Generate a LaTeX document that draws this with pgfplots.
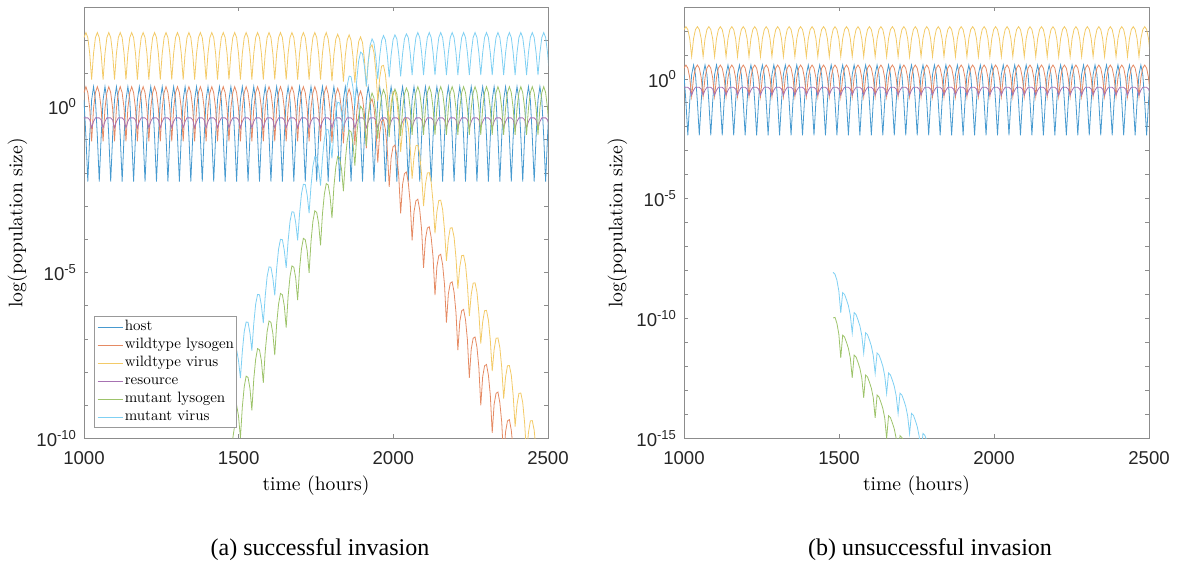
\documentclass[border=0pt]{standalone}
\usepackage{fontspec}
\setsansfont{Liberation Sans}
\newfontfamily\capfont{Liberation Serif}
\newfontfamily\lmten{lmroman10-regular.otf}
\usepackage{pgfplots}
\usepackage{pgfplotstable}
\pgfplotsset{compat=1.18}

\definecolor{chostb}{rgb}{0,0.447,0.741}
\definecolor{cwlb}{rgb}{0.85,0.325,0.098}
\definecolor{cwvb}{rgb}{0.929,0.694,0.125}
\definecolor{cresb}{rgb}{0.494,0.184,0.556}
\definecolor{cmlb}{rgb}{0.466,0.674,0.188}
\definecolor{cmvb}{rgb}{0.301,0.745,0.933}
\colorlet{chost}{chostb!72!white}
\colorlet{cwl}{cwlb!68!white}
\colorlet{cwv}{cwvb!68!white}
\colorlet{cres}{cresb!68!white}
\colorlet{cml}{cmlb!72!white}
\colorlet{cmv}{cmvb!72!white}

% log10 of population sizes; resident populations, successful invasion
\pgfplotstableread{
t h wl wv r
1000.00 0.20 0.42 2.08 -0.34
1006.17 -0.90 0.60 2.23 -0.34
1012.33 -2.26 0.42 2.08 -0.34
1018.50 -0.90 -0.05 1.60 -0.40
1024.67 0.20 -1.05 0.81 -0.64
1030.83 0.60 -0.05 1.60 -0.45
1037.00 0.20 0.42 2.08 -0.34
1043.17 -0.90 0.60 2.23 -0.34
1049.33 -2.26 0.42 2.08 -0.34
1055.50 -0.90 -0.05 1.60 -0.40
1061.67 0.20 -1.05 0.81 -0.64
1067.83 0.60 -0.05 1.60 -0.45
1074.00 0.20 0.42 2.08 -0.34
1080.17 -0.90 0.60 2.23 -0.34
1086.33 -2.26 0.42 2.08 -0.34
1092.50 -0.90 -0.05 1.60 -0.40
1098.67 0.20 -1.05 0.81 -0.64
1104.83 0.60 -0.05 1.60 -0.45
1111.00 0.20 0.42 2.08 -0.34
1117.17 -0.90 0.60 2.23 -0.34
1123.33 -2.26 0.42 2.08 -0.34
1129.50 -0.90 -0.05 1.60 -0.40
1135.67 0.20 -1.05 0.81 -0.64
1141.83 0.60 -0.05 1.60 -0.45
1148.00 0.20 0.42 2.08 -0.34
1154.17 -0.90 0.60 2.23 -0.34
1160.33 -2.26 0.42 2.08 -0.34
1166.50 -0.90 -0.05 1.60 -0.40
1172.67 0.20 -1.05 0.81 -0.64
1178.83 0.60 -0.05 1.60 -0.45
1185.00 0.20 0.42 2.08 -0.34
1191.17 -0.90 0.60 2.23 -0.34
1197.33 -2.26 0.42 2.08 -0.34
1203.50 -0.90 -0.05 1.60 -0.40
1209.67 0.20 -1.05 0.81 -0.64
1215.83 0.60 -0.05 1.60 -0.45
1222.00 0.20 0.42 2.08 -0.34
1228.17 -0.90 0.60 2.23 -0.34
1234.33 -2.26 0.42 2.08 -0.34
1240.50 -0.90 -0.05 1.60 -0.40
1246.67 0.20 -1.05 0.81 -0.64
1252.83 0.60 -0.05 1.60 -0.45
1259.00 0.20 0.42 2.08 -0.34
1265.17 -0.90 0.60 2.23 -0.34
1271.33 -2.26 0.42 2.08 -0.34
1277.50 -0.90 -0.05 1.60 -0.40
1283.67 0.20 -1.05 0.81 -0.64
1289.83 0.60 -0.05 1.60 -0.45
1296.00 0.20 0.42 2.08 -0.34
1302.17 -0.90 0.60 2.23 -0.34
1308.33 -2.26 0.42 2.08 -0.34
1314.50 -0.90 -0.05 1.60 -0.40
1320.67 0.20 -1.05 0.81 -0.64
1326.83 0.60 -0.05 1.60 -0.45
1333.00 0.20 0.42 2.08 -0.34
1339.17 -0.90 0.60 2.23 -0.34
1345.33 -2.26 0.42 2.08 -0.34
1351.50 -0.90 -0.05 1.60 -0.40
1357.67 0.20 -1.05 0.81 -0.64
1363.83 0.60 -0.05 1.60 -0.45
1370.00 0.20 0.42 2.08 -0.34
1376.17 -0.90 0.60 2.23 -0.34
1382.33 -2.26 0.42 2.08 -0.34
1388.50 -0.90 -0.05 1.60 -0.40
1394.67 0.20 -1.05 0.81 -0.64
1400.83 0.60 -0.05 1.60 -0.45
1407.00 0.20 0.42 2.08 -0.34
1413.17 -0.90 0.60 2.23 -0.34
1419.33 -2.26 0.42 2.08 -0.34
1425.50 -0.90 -0.05 1.60 -0.40
1431.67 0.20 -1.05 0.81 -0.64
1437.83 0.60 -0.05 1.60 -0.45
1444.00 0.20 0.42 2.08 -0.34
1450.17 -0.90 0.60 2.23 -0.34
1456.33 -2.26 0.42 2.08 -0.34
1462.50 -0.90 -0.05 1.60 -0.40
1468.67 0.20 -1.05 0.81 -0.64
1474.83 0.60 -0.05 1.60 -0.45
1481.00 0.20 0.42 2.08 -0.34
1487.17 -0.90 0.60 2.23 -0.34
1493.33 -2.26 0.42 2.08 -0.34
1499.50 -0.90 -0.05 1.60 -0.40
1505.67 0.20 -1.05 0.81 -0.64
1511.83 0.60 -0.05 1.60 -0.45
1518.00 0.20 0.42 2.08 -0.34
1524.17 -0.90 0.60 2.23 -0.34
1530.33 -2.26 0.42 2.08 -0.34
1536.50 -0.90 -0.05 1.60 -0.40
1542.67 0.20 -1.05 0.81 -0.64
1548.83 0.60 -0.05 1.60 -0.45
1555.00 0.20 0.42 2.08 -0.34
1561.17 -0.90 0.60 2.23 -0.34
1567.33 -2.26 0.42 2.08 -0.34
1573.50 -0.90 -0.05 1.60 -0.40
1579.67 0.20 -1.05 0.81 -0.64
1585.83 0.60 -0.05 1.60 -0.45
1592.00 0.20 0.42 2.08 -0.34
1598.17 -0.90 0.60 2.23 -0.34
1604.33 -2.26 0.42 2.08 -0.34
1610.50 -0.90 -0.05 1.60 -0.40
1616.67 0.20 -1.05 0.81 -0.64
1622.83 0.60 -0.05 1.60 -0.45
1629.00 0.20 0.42 2.08 -0.34
1635.17 -0.90 0.60 2.23 -0.34
1641.33 -2.26 0.42 2.08 -0.34
1647.50 -0.90 -0.05 1.60 -0.40
1653.67 0.20 -1.05 0.81 -0.64
1659.83 0.60 -0.05 1.60 -0.45
1666.00 0.20 0.42 2.08 -0.34
1672.17 -0.90 0.60 2.23 -0.34
1678.33 -2.26 0.42 2.08 -0.34
1684.50 -0.90 -0.05 1.60 -0.40
1690.67 0.20 -1.05 0.81 -0.64
1696.83 0.60 -0.05 1.60 -0.45
1703.00 0.20 0.42 2.08 -0.34
1709.17 -0.90 0.60 2.23 -0.34
1715.33 -2.26 0.42 2.08 -0.34
1721.50 -0.90 -0.05 1.60 -0.40
1727.67 0.20 -1.05 0.81 -0.64
1733.83 0.60 -0.05 1.60 -0.45
1740.00 0.20 0.42 2.08 -0.34
1746.17 -0.90 0.60 2.23 -0.34
1752.33 -2.26 0.42 2.08 -0.34
1758.50 -0.90 -0.05 1.60 -0.40
1764.67 0.20 -1.05 0.81 -0.64
1770.83 0.60 -0.05 1.60 -0.45
1777.00 0.20 0.42 2.08 -0.34
1783.17 -0.90 0.60 2.23 -0.34
1789.33 -2.26 0.38 2.04 -0.34
1795.50 -0.90 -0.09 1.56 -0.40
1801.67 0.20 -1.09 0.77 -0.64
1807.83 0.60 -0.10 1.56 -0.45
1814.00 0.20 0.37 2.03 -0.34
1820.17 -0.90 0.55 2.18 -0.34
1826.33 -2.26 0.37 2.03 -0.34
1832.50 -0.90 -0.11 1.54 -0.40
1838.67 0.20 -1.11 0.75 -0.64
1844.83 0.60 -0.11 1.54 -0.45
1851.00 0.20 0.35 2.01 -0.34
1857.17 -0.90 0.53 2.16 -0.34
1863.33 -2.26 0.34 2.00 -0.34
1869.50 -0.90 -0.14 1.51 -0.40
1875.67 0.20 -1.15 0.72 -0.64
1881.83 0.60 -0.16 1.50 -0.45
1888.00 0.20 0.30 1.96 -0.34
1894.17 -0.90 0.47 2.10 -0.34
1900.33 -2.26 0.27 1.93 -0.34
1906.50 -0.90 -0.23 1.42 -0.40
1912.67 0.20 -1.26 0.60 -0.64
1918.83 0.60 -0.30 1.35 -0.45
1925.00 0.20 0.12 1.78 -0.34
1931.17 -0.90 0.23 1.86 -0.34
1937.33 -2.26 -0.03 1.63 -0.34
1943.50 -0.90 -0.59 1.06 -0.40
1949.67 0.20 -1.69 0.17 -0.64
1955.83 0.60 -0.80 0.85 -0.45
1962.00 0.20 -0.45 1.22 -0.34
1968.17 -0.90 -0.39 1.24 -0.34
1974.33 -2.26 -0.69 0.97 -0.34
1980.50 -0.90 -1.29 0.36 -0.40
1986.67 0.20 -2.42 -0.56 -0.64
1992.83 0.60 -1.55 0.10 -0.45
1999.00 0.20 -1.21 0.45 -0.34
2005.17 -0.90 -1.16 0.47 -0.34
2011.33 -2.26 -1.48 0.18 -0.34
2017.50 -0.90 -2.08 -0.43 -0.40
2023.67 0.20 -3.22 -1.36 -0.64
2029.83 0.60 -2.35 -0.70 -0.45
2036.00 0.20 -2.02 -0.36 -0.34
2042.17 -0.90 -1.97 -0.34 -0.34
2048.33 -2.26 -2.29 -0.63 -0.34
2054.50 -0.90 -2.90 -1.25 -0.40
2060.67 0.20 -4.03 -2.17 -0.64
2066.83 0.60 -3.17 -1.52 -0.45
2073.00 0.20 -2.84 -1.18 -0.34
2079.17 -0.90 -2.79 -1.16 -0.34
2085.33 -2.26 -3.11 -1.45 -0.34
2091.50 -0.90 -3.72 -2.07 -0.40
2097.67 0.20 -4.86 -3.00 -0.64
2103.83 0.60 -3.99 -2.34 -0.45
2110.00 0.20 -3.66 -2.00 -0.34
2116.17 -0.90 -3.62 -1.99 -0.34
2122.33 -2.26 -3.94 -2.28 -0.34
2128.50 -0.90 -4.54 -2.89 -0.40
2134.67 0.20 -5.68 -3.82 -0.64
2140.83 0.60 -4.82 -3.17 -0.45
2147.00 0.20 -4.49 -2.83 -0.34
2153.17 -0.90 -4.45 -2.82 -0.34
2159.33 -2.26 -4.76 -3.10 -0.34
2165.50 -0.90 -5.37 -3.72 -0.40
2171.67 0.20 -6.51 -4.65 -0.64
2177.83 0.60 -5.65 -4.00 -0.45
2184.00 0.20 -5.32 -3.66 -0.34
2190.17 -0.90 -5.28 -3.65 -0.34
2196.33 -2.26 -5.59 -3.93 -0.34
2202.50 -0.90 -6.20 -4.55 -0.40
2208.67 0.20 -7.34 -5.48 -0.64
2214.83 0.60 -6.48 -4.83 -0.45
2221.00 0.20 -6.15 -4.49 -0.34
2227.17 -0.90 -6.11 -4.48 -0.34
2233.33 -2.26 -6.42 -4.76 -0.34
2239.50 -0.90 -7.03 -5.38 -0.40
2245.67 0.20 -8.17 -6.31 -0.64
2251.83 0.60 -7.31 -5.66 -0.45
2258.00 0.20 -6.98 -5.32 -0.34
2264.17 -0.90 -6.94 -5.31 -0.34
2270.33 -2.26 -7.25 -5.59 -0.34
2276.50 -0.90 -7.86 -6.21 -0.40
2282.67 0.20 -9.00 -7.14 -0.64
2288.83 0.60 -8.14 -6.49 -0.45
2295.00 0.20 -7.81 -6.15 -0.34
2301.17 -0.90 -7.77 -6.14 -0.34
2307.33 -2.26 -8.09 -6.43 -0.34
2313.50 -0.90 -8.69 -7.04 -0.40
2319.67 0.20 -9.83 -7.97 -0.64
2325.83 0.60 -8.97 -7.32 -0.45
2332.00 0.20 -8.64 -6.98 -0.34
2338.17 -0.90 -8.60 -6.97 -0.34
2344.33 -2.26 -8.92 -7.26 -0.34
2350.50 -0.90 -9.52 -7.87 -0.40
2356.67 0.20 -10.66 -8.80 -0.64
2362.83 0.60 -9.80 -8.15 -0.45
2369.00 0.20 -9.47 -7.81 -0.34
2375.17 -0.90 -9.43 -7.80 -0.34
2381.33 -2.26 -9.75 -8.09 -0.34
2387.50 -0.90 -10.36 -8.71 -0.40
2393.67 0.20 -11.50 -9.64 -0.64
2399.83 0.60 -10.63 -8.98 -0.45
2406.00 0.20 -10.30 -8.64 -0.34
2412.17 -0.90 -10.26 -8.63 -0.34
2418.33 -2.26 -10.58 -8.92 -0.34
2424.50 -0.90 -11.19 -9.54 -0.40
2430.67 0.20 -12.33 -10.47 -0.64
2436.83 0.60 -11.47 -9.82 -0.45
2443.00 0.20 -11.13 -9.47 -0.34
2449.17 -0.90 -11.09 -9.46 -0.34
2455.33 -2.26 -11.41 -9.75 -0.34
2461.50 -0.90 -12.02 -10.37 -0.40
2467.67 0.20 -13.16 -11.30 -0.64
2473.83 0.60 -12.30 -10.65 -0.45
2480.00 0.20 -11.97 -10.31 -0.34
2486.17 -0.90 -11.92 -10.29 -0.34
2492.33 -2.26 -12.24 -10.58 -0.34
2498.50 -0.90 -12.85 -11.20 -0.40
2504.67 0.20 -13.99 -12.13 -0.64
}\resA

% mutant populations, successful invasion
\pgfplotstableread{
t ml mv
1481.00 -10.00 -8.05
1487.17 -9.60 -7.60
1493.33 -8.99 -7.33
1499.50 -9.32 -7.65
1505.67 -9.98 -8.18
1511.83 -9.05 -7.38
1518.00 -8.44 -6.78
1524.17 -8.12 -6.49
1530.33 -8.16 -6.50
1536.50 -8.49 -6.82
1542.67 -9.15 -7.35
1548.83 -8.21 -6.54
1555.00 -7.61 -5.95
1561.17 -7.29 -5.66
1567.33 -7.33 -5.67
1573.50 -7.66 -5.99
1579.67 -8.32 -6.52
1585.83 -7.38 -5.71
1592.00 -6.78 -5.12
1598.17 -6.46 -4.83
1604.33 -6.50 -4.84
1610.50 -6.83 -5.16
1616.67 -7.49 -5.69
1622.83 -6.55 -4.88
1629.00 -5.95 -4.29
1635.17 -5.63 -4.00
1641.33 -5.67 -4.01
1647.50 -6.00 -4.33
1653.67 -6.66 -4.86
1659.83 -5.72 -4.05
1666.00 -5.12 -3.46
1672.17 -4.80 -3.17
1678.33 -4.84 -3.18
1684.50 -5.17 -3.50
1690.67 -5.83 -4.03
1696.83 -4.90 -3.23
1703.00 -4.29 -2.63
1709.17 -3.97 -2.34
1715.33 -4.01 -2.35
1721.50 -4.34 -2.67
1727.67 -5.01 -3.21
1733.83 -4.07 -2.40
1740.00 -3.46 -1.80
1746.17 -3.14 -1.51
1752.33 -3.19 -1.53
1758.50 -3.52 -1.85
1764.67 -4.18 -2.38
1770.83 -3.24 -1.57
1777.00 -2.64 -0.98
1783.17 -2.32 -0.69
1789.33 -2.36 -0.70
1795.50 -2.70 -1.03
1801.67 -3.36 -1.56
1807.83 -2.42 -0.75
1814.00 -1.82 -0.16
1820.17 -1.50 0.13
1826.33 -1.55 0.11
1832.50 -1.88 -0.21
1838.67 -2.55 -0.75
1844.83 -1.62 0.05
1851.00 -1.02 0.64
1857.17 -0.71 0.92
1863.33 -0.76 0.90
1869.50 -1.10 0.57
1875.67 -1.78 0.02
1881.83 -0.86 0.81
1888.00 -0.28 1.38
1894.17 0.01 1.64
1900.33 -0.07 1.59
1906.50 -0.46 1.21
1912.67 -1.19 0.62
1918.83 -0.33 1.34
1925.00 0.19 1.85
1931.17 0.41 2.04
1937.33 0.26 1.92
1943.50 -0.19 1.48
1949.67 -0.98 0.82
1955.83 -0.16 1.51
1962.00 0.32 1.98
1968.17 0.51 2.14
1974.33 0.35 2.01
1980.50 -0.12 1.55
1986.67 -0.92 0.88
1992.83 -0.12 1.55
1999.00 0.35 2.01
2005.17 0.53 2.16
2011.33 0.38 2.04
2017.50 -0.09 1.58
2023.67 -0.89 0.91
2029.83 -0.09 1.58
2036.00 0.38 2.04
2042.17 0.56 2.19
2048.33 0.42 2.08
2054.50 -0.05 1.62
2060.67 -0.85 0.95
2066.83 -0.05 1.62
2073.00 0.42 2.08
2079.17 0.60 2.23
2085.33 0.42 2.08
2091.50 -0.05 1.62
2097.67 -0.85 0.95
2103.83 -0.05 1.62
2110.00 0.42 2.08
2116.17 0.60 2.23
2122.33 0.42 2.08
2128.50 -0.05 1.62
2134.67 -0.85 0.95
2140.83 -0.05 1.62
2147.00 0.42 2.08
2153.17 0.60 2.23
2159.33 0.42 2.08
2165.50 -0.05 1.62
2171.67 -0.85 0.95
2177.83 -0.05 1.62
2184.00 0.42 2.08
2190.17 0.60 2.23
2196.33 0.42 2.08
2202.50 -0.05 1.62
2208.67 -0.85 0.95
2214.83 -0.05 1.62
2221.00 0.42 2.08
2227.17 0.60 2.23
2233.33 0.42 2.08
2239.50 -0.05 1.62
2245.67 -0.85 0.95
2251.83 -0.05 1.62
2258.00 0.42 2.08
2264.17 0.60 2.23
2270.33 0.42 2.08
2276.50 -0.05 1.62
2282.67 -0.85 0.95
2288.83 -0.05 1.62
2295.00 0.42 2.08
2301.17 0.60 2.23
2307.33 0.42 2.08
2313.50 -0.05 1.62
2319.67 -0.85 0.95
2325.83 -0.05 1.62
2332.00 0.42 2.08
2338.17 0.60 2.23
2344.33 0.42 2.08
2350.50 -0.05 1.62
2356.67 -0.85 0.95
2362.83 -0.05 1.62
2369.00 0.42 2.08
2375.17 0.60 2.23
2381.33 0.42 2.08
2387.50 -0.05 1.62
2393.67 -0.85 0.95
2399.83 -0.05 1.62
2406.00 0.42 2.08
2412.17 0.60 2.23
2418.33 0.42 2.08
2424.50 -0.05 1.62
2430.67 -0.85 0.95
2436.83 -0.05 1.62
2443.00 0.42 2.08
2449.17 0.60 2.23
2455.33 0.42 2.08
2461.50 -0.05 1.62
2467.67 -0.85 0.95
2473.83 -0.05 1.62
2480.00 0.42 2.08
2486.17 0.60 2.23
2492.33 0.42 2.08
2498.50 -0.05 1.62
2504.67 -0.85 0.95
}\mutA

% resident populations, unsuccessful invasion
\pgfplotstableread{
t h wl wv r
1000.00 0.18 0.45 2.06 -0.35
1006.17 -0.95 0.58 2.18 -0.35
1012.33 -2.35 0.45 2.06 -0.35
1018.50 -0.95 0.05 1.68 -0.42
1024.67 0.18 -0.74 0.93 -0.67
1030.83 0.58 0.05 1.68 -0.47
1037.00 0.18 0.45 2.06 -0.35
1043.17 -0.95 0.58 2.18 -0.35
1049.33 -2.35 0.45 2.06 -0.35
1055.50 -0.95 0.05 1.68 -0.42
1061.67 0.18 -0.74 0.93 -0.67
1067.83 0.58 0.05 1.68 -0.47
1074.00 0.18 0.45 2.06 -0.35
1080.17 -0.95 0.58 2.18 -0.35
1086.33 -2.35 0.45 2.06 -0.35
1092.50 -0.95 0.05 1.68 -0.42
1098.67 0.18 -0.74 0.93 -0.67
1104.83 0.58 0.05 1.68 -0.47
1111.00 0.18 0.45 2.06 -0.35
1117.17 -0.95 0.58 2.18 -0.35
1123.33 -2.35 0.45 2.06 -0.35
1129.50 -0.95 0.05 1.68 -0.42
1135.67 0.18 -0.74 0.93 -0.67
1141.83 0.58 0.05 1.68 -0.47
1148.00 0.18 0.45 2.06 -0.35
1154.17 -0.95 0.58 2.18 -0.35
1160.33 -2.35 0.45 2.06 -0.35
1166.50 -0.95 0.05 1.68 -0.42
1172.67 0.18 -0.74 0.93 -0.67
1178.83 0.58 0.05 1.68 -0.47
1185.00 0.18 0.45 2.06 -0.35
1191.17 -0.95 0.58 2.18 -0.35
1197.33 -2.35 0.45 2.06 -0.35
1203.50 -0.95 0.05 1.68 -0.42
1209.67 0.18 -0.74 0.93 -0.67
1215.83 0.58 0.05 1.68 -0.47
1222.00 0.18 0.45 2.06 -0.35
1228.17 -0.95 0.58 2.18 -0.35
1234.33 -2.35 0.45 2.06 -0.35
1240.50 -0.95 0.05 1.68 -0.42
1246.67 0.18 -0.74 0.93 -0.67
1252.83 0.58 0.05 1.68 -0.47
1259.00 0.18 0.45 2.06 -0.35
1265.17 -0.95 0.58 2.18 -0.35
1271.33 -2.35 0.45 2.06 -0.35
1277.50 -0.95 0.05 1.68 -0.42
1283.67 0.18 -0.74 0.93 -0.67
1289.83 0.58 0.05 1.68 -0.47
1296.00 0.18 0.45 2.06 -0.35
1302.17 -0.95 0.58 2.18 -0.35
1308.33 -2.35 0.45 2.06 -0.35
1314.50 -0.95 0.05 1.68 -0.42
1320.67 0.18 -0.74 0.93 -0.67
1326.83 0.58 0.05 1.68 -0.47
1333.00 0.18 0.45 2.06 -0.35
1339.17 -0.95 0.58 2.18 -0.35
1345.33 -2.35 0.45 2.06 -0.35
1351.50 -0.95 0.05 1.68 -0.42
1357.67 0.18 -0.74 0.93 -0.67
1363.83 0.58 0.05 1.68 -0.47
1370.00 0.18 0.45 2.06 -0.35
1376.17 -0.95 0.58 2.18 -0.35
1382.33 -2.35 0.45 2.06 -0.35
1388.50 -0.95 0.05 1.68 -0.42
1394.67 0.18 -0.74 0.93 -0.67
1400.83 0.58 0.05 1.68 -0.47
1407.00 0.18 0.45 2.06 -0.35
1413.17 -0.95 0.58 2.18 -0.35
1419.33 -2.35 0.45 2.06 -0.35
1425.50 -0.95 0.05 1.68 -0.42
1431.67 0.18 -0.74 0.93 -0.67
1437.83 0.58 0.05 1.68 -0.47
1444.00 0.18 0.45 2.06 -0.35
1450.17 -0.95 0.58 2.18 -0.35
1456.33 -2.35 0.45 2.06 -0.35
1462.50 -0.95 0.05 1.68 -0.42
1468.67 0.18 -0.74 0.93 -0.67
1474.83 0.58 0.05 1.68 -0.47
1481.00 0.18 0.45 2.06 -0.35
1487.17 -0.95 0.58 2.18 -0.35
1493.33 -2.35 0.45 2.06 -0.35
1499.50 -0.95 0.05 1.68 -0.42
1505.67 0.18 -0.74 0.93 -0.67
1511.83 0.58 0.05 1.68 -0.47
1518.00 0.18 0.45 2.06 -0.35
1524.17 -0.95 0.58 2.18 -0.35
1530.33 -2.35 0.45 2.06 -0.35
1536.50 -0.95 0.05 1.68 -0.42
1542.67 0.18 -0.74 0.93 -0.67
1548.83 0.58 0.05 1.68 -0.47
1555.00 0.18 0.45 2.06 -0.35
1561.17 -0.95 0.58 2.18 -0.35
1567.33 -2.35 0.45 2.06 -0.35
1573.50 -0.95 0.05 1.68 -0.42
1579.67 0.18 -0.74 0.93 -0.67
1585.83 0.58 0.05 1.68 -0.47
1592.00 0.18 0.45 2.06 -0.35
1598.17 -0.95 0.58 2.18 -0.35
1604.33 -2.35 0.45 2.06 -0.35
1610.50 -0.95 0.05 1.68 -0.42
1616.67 0.18 -0.74 0.93 -0.67
1622.83 0.58 0.05 1.68 -0.47
1629.00 0.18 0.45 2.06 -0.35
1635.17 -0.95 0.58 2.18 -0.35
1641.33 -2.35 0.45 2.06 -0.35
1647.50 -0.95 0.05 1.68 -0.42
1653.67 0.18 -0.74 0.93 -0.67
1659.83 0.58 0.05 1.68 -0.47
1666.00 0.18 0.45 2.06 -0.35
1672.17 -0.95 0.58 2.18 -0.35
1678.33 -2.35 0.45 2.06 -0.35
1684.50 -0.95 0.05 1.68 -0.42
1690.67 0.18 -0.74 0.93 -0.67
1696.83 0.58 0.05 1.68 -0.47
1703.00 0.18 0.45 2.06 -0.35
1709.17 -0.95 0.58 2.18 -0.35
1715.33 -2.35 0.45 2.06 -0.35
1721.50 -0.95 0.05 1.68 -0.42
1727.67 0.18 -0.74 0.93 -0.67
1733.83 0.58 0.05 1.68 -0.47
1740.00 0.18 0.45 2.06 -0.35
1746.17 -0.95 0.58 2.18 -0.35
1752.33 -2.35 0.45 2.06 -0.35
1758.50 -0.95 0.05 1.68 -0.42
1764.67 0.18 -0.74 0.93 -0.67
1770.83 0.58 0.05 1.68 -0.47
1777.00 0.18 0.45 2.06 -0.35
1783.17 -0.95 0.58 2.18 -0.35
1789.33 -2.35 0.45 2.06 -0.35
1795.50 -0.95 0.05 1.68 -0.42
1801.67 0.18 -0.74 0.93 -0.67
1807.83 0.58 0.05 1.68 -0.47
1814.00 0.18 0.45 2.06 -0.35
1820.17 -0.95 0.58 2.18 -0.35
1826.33 -2.35 0.45 2.06 -0.35
1832.50 -0.95 0.05 1.68 -0.42
1838.67 0.18 -0.74 0.93 -0.67
1844.83 0.58 0.05 1.68 -0.47
1851.00 0.18 0.45 2.06 -0.35
1857.17 -0.95 0.58 2.18 -0.35
1863.33 -2.35 0.45 2.06 -0.35
1869.50 -0.95 0.05 1.68 -0.42
1875.67 0.18 -0.74 0.93 -0.67
1881.83 0.58 0.05 1.68 -0.47
1888.00 0.18 0.45 2.06 -0.35
1894.17 -0.95 0.58 2.18 -0.35
1900.33 -2.35 0.45 2.06 -0.35
1906.50 -0.95 0.05 1.68 -0.42
1912.67 0.18 -0.74 0.93 -0.67
1918.83 0.58 0.05 1.68 -0.47
1925.00 0.18 0.45 2.06 -0.35
1931.17 -0.95 0.58 2.18 -0.35
1937.33 -2.35 0.45 2.06 -0.35
1943.50 -0.95 0.05 1.68 -0.42
1949.67 0.18 -0.74 0.93 -0.67
1955.83 0.58 0.05 1.68 -0.47
1962.00 0.18 0.45 2.06 -0.35
1968.17 -0.95 0.58 2.18 -0.35
1974.33 -2.35 0.45 2.06 -0.35
1980.50 -0.95 0.05 1.68 -0.42
1986.67 0.18 -0.74 0.93 -0.67
1992.83 0.58 0.05 1.68 -0.47
1999.00 0.18 0.45 2.06 -0.35
2005.17 -0.95 0.58 2.18 -0.35
2011.33 -2.35 0.45 2.06 -0.35
2017.50 -0.95 0.05 1.68 -0.42
2023.67 0.18 -0.74 0.93 -0.67
2029.83 0.58 0.05 1.68 -0.47
2036.00 0.18 0.45 2.06 -0.35
2042.17 -0.95 0.58 2.18 -0.35
2048.33 -2.35 0.45 2.06 -0.35
2054.50 -0.95 0.05 1.68 -0.42
2060.67 0.18 -0.74 0.93 -0.67
2066.83 0.58 0.05 1.68 -0.47
2073.00 0.18 0.45 2.06 -0.35
2079.17 -0.95 0.58 2.18 -0.35
2085.33 -2.35 0.45 2.06 -0.35
2091.50 -0.95 0.05 1.68 -0.42
2097.67 0.18 -0.74 0.93 -0.67
2103.83 0.58 0.05 1.68 -0.47
2110.00 0.18 0.45 2.06 -0.35
2116.17 -0.95 0.58 2.18 -0.35
2122.33 -2.35 0.45 2.06 -0.35
2128.50 -0.95 0.05 1.68 -0.42
2134.67 0.18 -0.74 0.93 -0.67
2140.83 0.58 0.05 1.68 -0.47
2147.00 0.18 0.45 2.06 -0.35
2153.17 -0.95 0.58 2.18 -0.35
2159.33 -2.35 0.45 2.06 -0.35
2165.50 -0.95 0.05 1.68 -0.42
2171.67 0.18 -0.74 0.93 -0.67
2177.83 0.58 0.05 1.68 -0.47
2184.00 0.18 0.45 2.06 -0.35
2190.17 -0.95 0.58 2.18 -0.35
2196.33 -2.35 0.45 2.06 -0.35
2202.50 -0.95 0.05 1.68 -0.42
2208.67 0.18 -0.74 0.93 -0.67
2214.83 0.58 0.05 1.68 -0.47
2221.00 0.18 0.45 2.06 -0.35
2227.17 -0.95 0.58 2.18 -0.35
2233.33 -2.35 0.45 2.06 -0.35
2239.50 -0.95 0.05 1.68 -0.42
2245.67 0.18 -0.74 0.93 -0.67
2251.83 0.58 0.05 1.68 -0.47
2258.00 0.18 0.45 2.06 -0.35
2264.17 -0.95 0.58 2.18 -0.35
2270.33 -2.35 0.45 2.06 -0.35
2276.50 -0.95 0.05 1.68 -0.42
2282.67 0.18 -0.74 0.93 -0.67
2288.83 0.58 0.05 1.68 -0.47
2295.00 0.18 0.45 2.06 -0.35
2301.17 -0.95 0.58 2.18 -0.35
2307.33 -2.35 0.45 2.06 -0.35
2313.50 -0.95 0.05 1.68 -0.42
2319.67 0.18 -0.74 0.93 -0.67
2325.83 0.58 0.05 1.68 -0.47
2332.00 0.18 0.45 2.06 -0.35
2338.17 -0.95 0.58 2.18 -0.35
2344.33 -2.35 0.45 2.06 -0.35
2350.50 -0.95 0.05 1.68 -0.42
2356.67 0.18 -0.74 0.93 -0.67
2362.83 0.58 0.05 1.68 -0.47
2369.00 0.18 0.45 2.06 -0.35
2375.17 -0.95 0.58 2.18 -0.35
2381.33 -2.35 0.45 2.06 -0.35
2387.50 -0.95 0.05 1.68 -0.42
2393.67 0.18 -0.74 0.93 -0.67
2399.83 0.58 0.05 1.68 -0.47
2406.00 0.18 0.45 2.06 -0.35
2412.17 -0.95 0.58 2.18 -0.35
2418.33 -2.35 0.45 2.06 -0.35
2424.50 -0.95 0.05 1.68 -0.42
2430.67 0.18 -0.74 0.93 -0.67
2436.83 0.58 0.05 1.68 -0.47
2443.00 0.18 0.45 2.06 -0.35
2449.17 -0.95 0.58 2.18 -0.35
2455.33 -2.35 0.45 2.06 -0.35
2461.50 -0.95 0.05 1.68 -0.42
2467.67 0.18 -0.74 0.93 -0.67
2473.83 0.58 0.05 1.68 -0.47
2480.00 0.18 0.45 2.06 -0.35
2486.17 -0.95 0.58 2.18 -0.35
2492.33 -2.35 0.45 2.06 -0.35
2498.50 -0.95 0.05 1.68 -0.42
2504.67 0.18 -0.74 0.93 -0.67
}\resB

% mutant populations, unsuccessful invasion
\pgfplotstableread{
t ml mv
1481.00 -9.97 -8.07
1487.17 -9.95 -8.15
1493.33 -10.20 -8.40
1499.50 -10.65 -8.85
1505.67 -11.64 -9.76
1511.83 -10.69 -8.91
1518.00 -10.77 -8.99
1524.17 -10.99 -9.21
1530.33 -11.24 -9.46
1536.50 -11.64 -9.86
1542.67 -12.47 -10.60
1548.83 -11.52 -9.75
1555.00 -11.60 -9.83
1561.17 -11.82 -10.05
1567.33 -12.07 -10.30
1573.50 -12.47 -10.70
1579.67 -13.30 -11.44
1585.83 -12.35 -10.59
1592.00 -12.43 -10.67
1598.17 -12.65 -10.89
1604.33 -12.90 -11.14
1610.50 -13.30 -11.54
1616.67 -14.14 -12.28
1622.83 -13.19 -11.43
1629.00 -13.27 -11.51
1635.17 -13.49 -11.73
1641.33 -13.74 -11.98
1647.50 -14.14 -12.38
1653.67 -15.00 -13.12
1659.83 -14.05 -12.27
1666.00 -14.13 -12.35
1672.17 -14.35 -12.57
1678.33 -14.60 -12.82
1684.50 -15.00 -13.22
1690.67 -15.83 -13.96
1696.83 -14.88 -13.11
1703.00 -14.96 -13.19
1709.17 -15.18 -13.41
1715.33 -15.43 -13.66
1721.50 nan -14.06
1727.67 nan -14.80
1733.83 nan -13.95
1740.00 nan -14.03
1746.17 nan -14.25
1752.33 nan -14.50
1758.50 nan -14.90
1764.67 nan -15.64
1770.83 nan -14.79
1777.00 nan -14.87
1783.17 nan -15.09
1789.33 nan -15.34
}\mutB

\pgfplotsset{
  popaxis/.style={
    scale only axis, height=215.75pt,
    xmin=1000, xmax=2500,
    enlargelimits=false, clip=true,
    xtick={1000,1500,2000,2500},
    xticklabels={1000,1500,2000,2500},
    tick align=inside, tick pos=both,
    major tick length=2.2pt, minor tick length=2.2pt,
    tick style={black!45, line width=0.4pt},
    axis line style={black!45, line width=0.4pt},
    ticklabel style={font=\sffamily\fontsize{9.3}{11}\selectfont, text=black!85},
    xticklabel style={anchor=center, yshift=-9.75pt},
    xlabel={time (hours)}, ylabel={log(population size)},
    label style={font=\lmten\fontsize{9.8}{12}\selectfont},
    xlabel style={at={(axis description cs:0.5,-0.108)}, anchor=center},
    ylabel style={at={(axis description cs:-0.1433,0.5)}, anchor=center},
    every axis plot/.append style={line width=0.4pt},
  }
}

\begin{document}
\begin{tikzpicture}
\path[use as bounding box] (0,0) rectangle (589.5pt,-286.5pt);

\begin{axis}[popaxis,
  at={(42pt,-219.25pt)}, anchor=south west, width=232pt,
  ymin=-10, ymax=3,
  ytick={-10,-5,0},
  yticklabels={10\textsuperscript{-10},10\textsuperscript{-5},10\textsuperscript{0}},
  minor ytick={-9,-8,-7,-6,-4,-3,-2,-1,1,2},
  legend cell align=left,
  legend image code/.code={\draw[#1] (0pt,0pt) -- (12.5pt,0pt);},
  legend style={at={(0.0216,0.0243)}, anchor=south west,
    draw=black!40, line width=0.4pt, fill=white,
    inner xsep=1.2pt, inner ysep=1.6pt, row sep=1.8pt, column sep=0.8pt,
    font=\lmten\fontsize{7.5}{9}\selectfont,
    nodes={inner sep=0pt, text height=5.4pt, text depth=1.8pt}},
]
\addplot[chost, forget plot] table[x=t, y=h] {\resA};
\addplot[cwl, forget plot] table[x=t, y=wl] {\resA};
\addplot[cwv, forget plot] table[x=t, y=wv] {\resA};
\addplot[cres, forget plot] table[x=t, y=r] {\resA};
\addplot[cml, forget plot] table[x=t, y=ml] {\mutA};
\addplot[cmv, forget plot] table[x=t, y=mv] {\mutA};
\addlegendimage{draw=chost, line width=0.7pt}
\addlegendentry{host}
\addlegendimage{draw=cwl, line width=0.7pt}
\addlegendentry{wildtype lysogen}
\addlegendimage{draw=cwv, line width=0.7pt}
\addlegendentry{wildtype virus}
\addlegendimage{draw=cres, line width=0.7pt}
\addlegendentry{resource}
\addlegendimage{draw=cml, line width=0.7pt}
\addlegendentry{mutant lysogen}
\addlegendimage{draw=cmv, line width=0.7pt}
\addlegendentry{mutant virus}
\end{axis}

\begin{axis}[popaxis,
  at={(342pt,-219.25pt)}, anchor=south west, width=232.5pt,
  ymin=-15, ymax=3,
  ytick={-15,-10,-5,0},
  yticklabels={10\textsuperscript{-15},10\textsuperscript{-10},10\textsuperscript{-5},10\textsuperscript{0}},
  minor ytick={-14,-13,-12,-11,-9,-8,-7,-6,-4,-3,-2,-1,1,2},
]
\addplot[chost] table[x=t, y=h] {\resB};
\addplot[cwl] table[x=t, y=wl] {\resB};
\addplot[cwv] table[x=t, y=wv] {\resB};
\addplot[cres] table[x=t, y=r] {\resB};
\addplot[cml] table[x=t, y=ml] {\mutB};
\addplot[cmv] table[x=t, y=mv] {\mutB};
\end{axis}

\node[font=\capfont\fontsize{12}{14}\selectfont] at (160pt,-275pt) {(a) successful invasion};
\node[font=\capfont\fontsize{12}{14}\selectfont] at (465pt,-275pt) {(b) unsuccessful invasion};
\end{tikzpicture}
\end{document}
